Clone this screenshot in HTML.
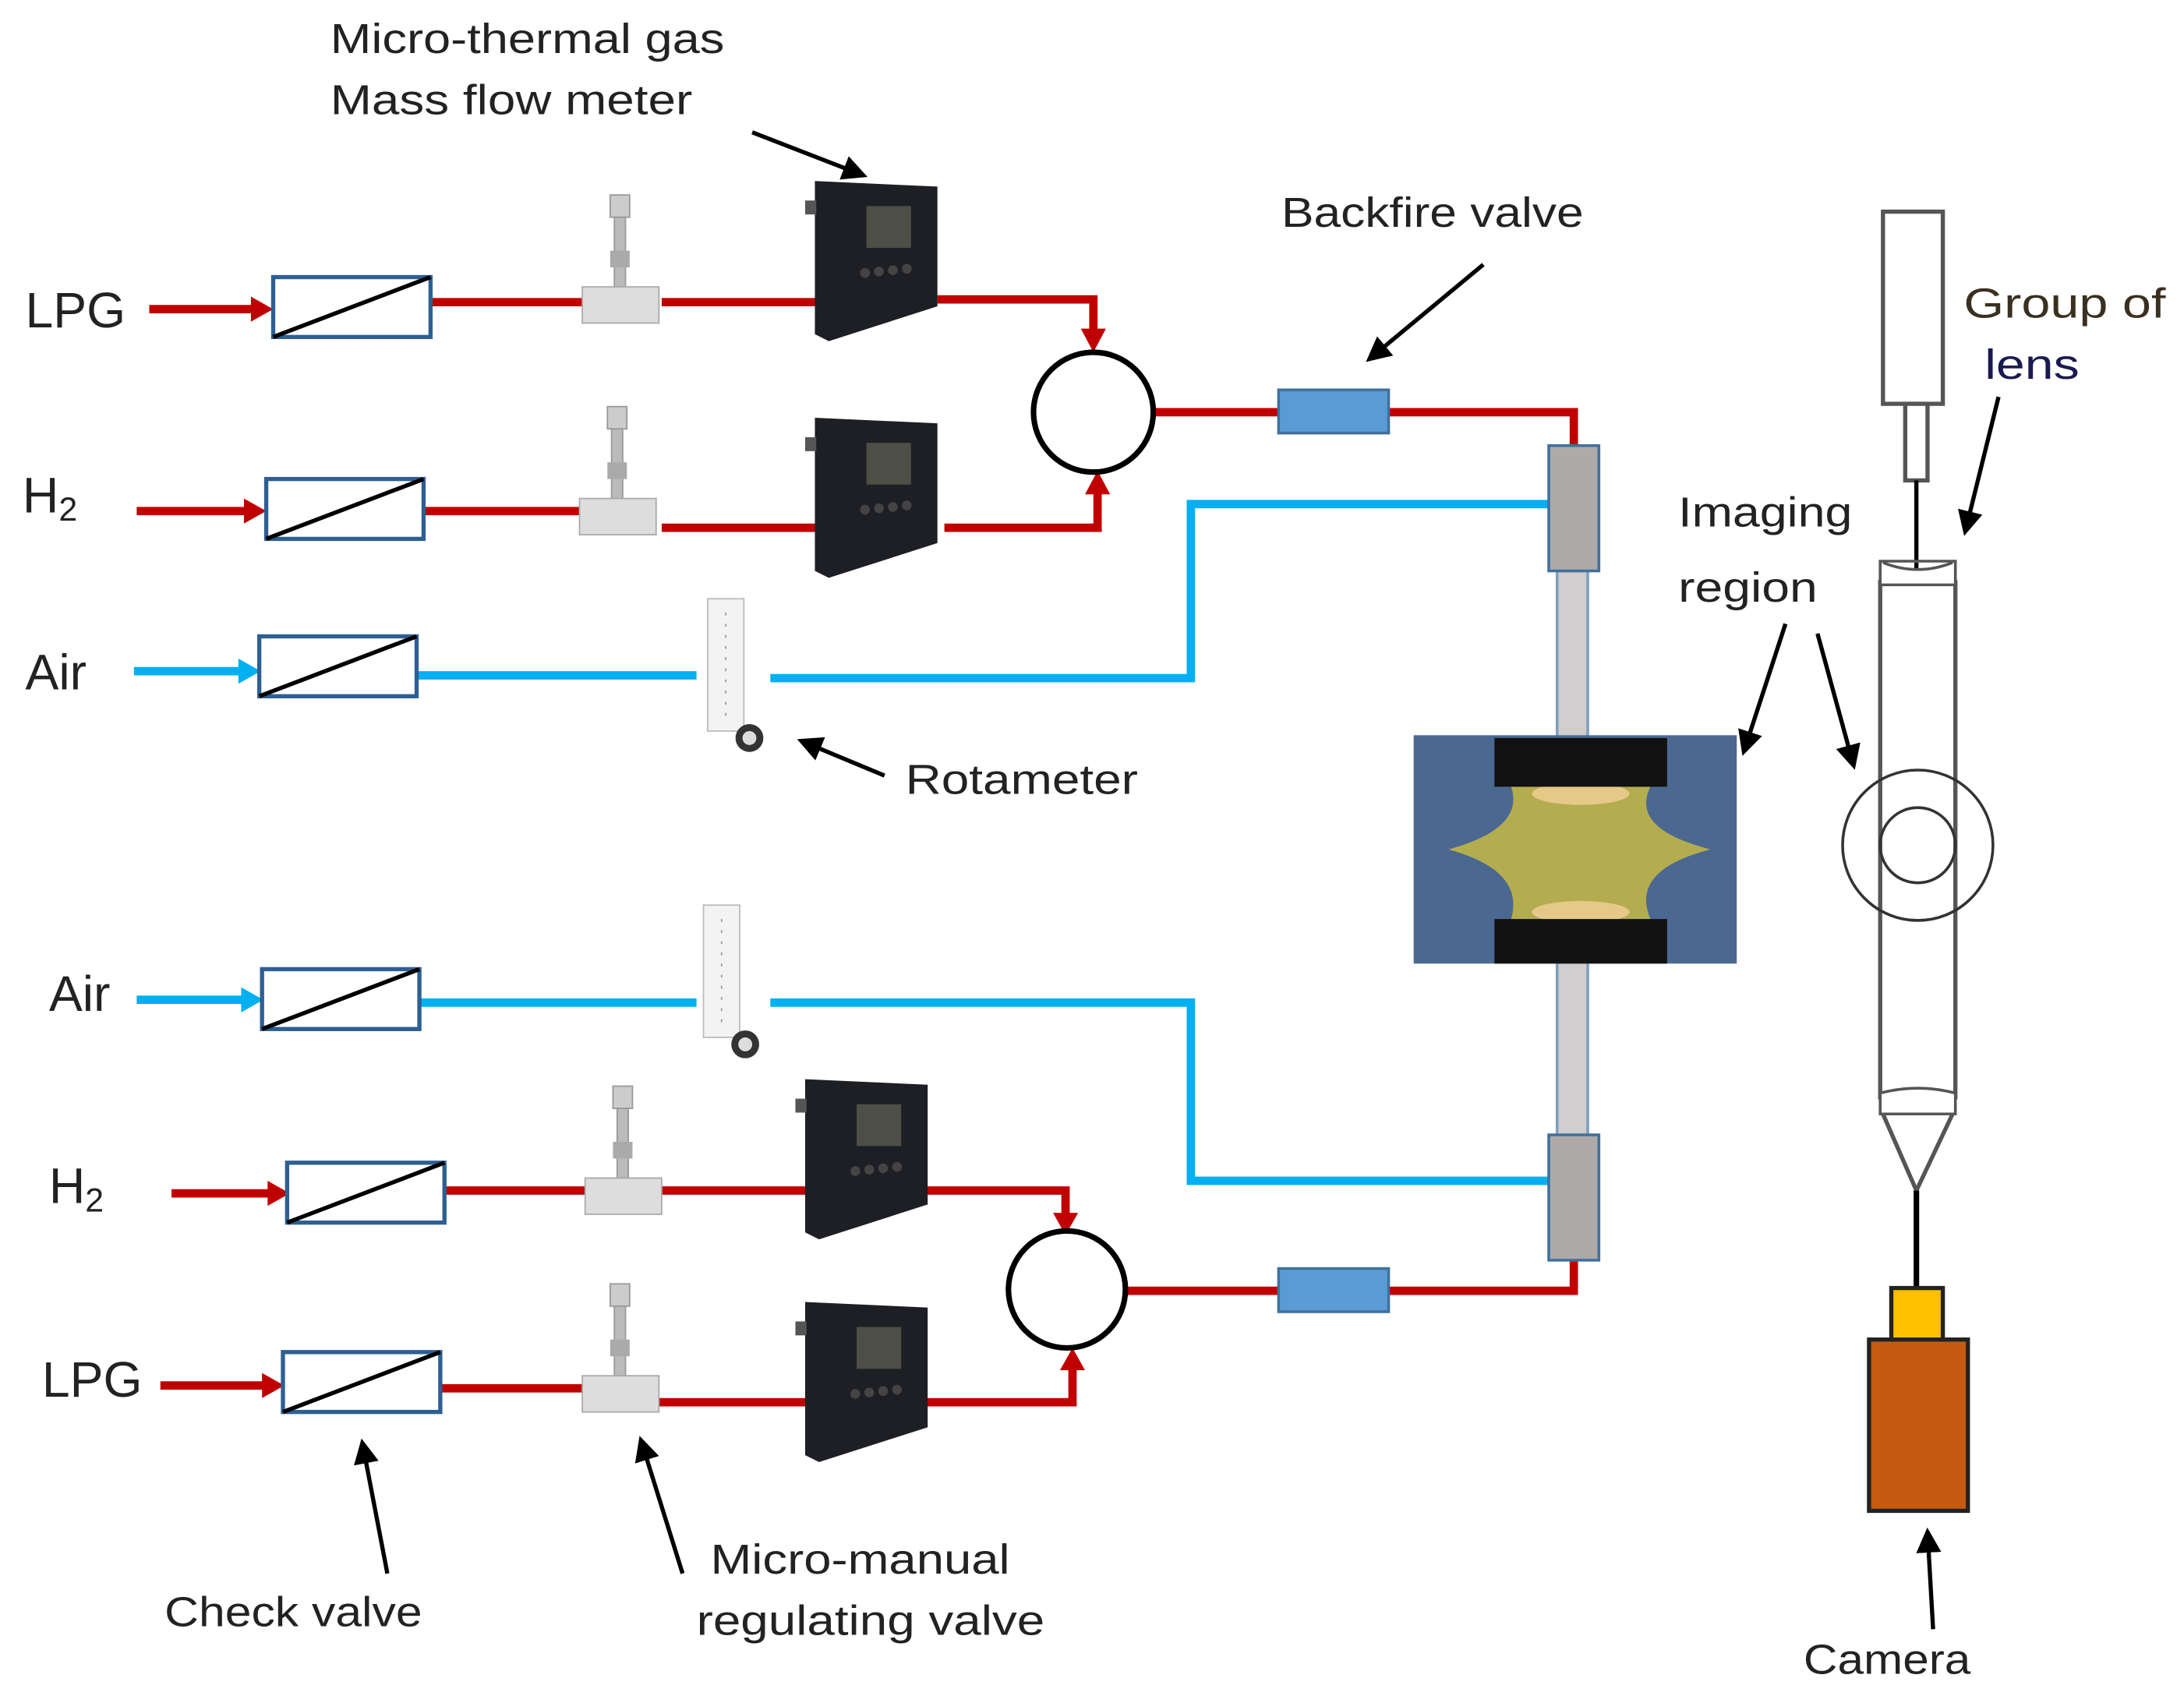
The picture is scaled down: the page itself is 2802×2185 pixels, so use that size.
<!DOCTYPE html>
<html><head><meta charset="utf-8"><style>html,body{margin:0;padding:0;background:#fff}svg{display:block}text{font-family:"Liberation Sans",sans-serif;fill:#222}</style></head>
<body>
<svg width="2802" height="2185" viewBox="0 0 1568 1223" xmlns="http://www.w3.org/2000/svg">
<defs>
<marker id="ah" markerWidth="6" markerHeight="6" refX="5" refY="3" orient="auto" markerUnits="strokeWidth"><path d="M0,0 L6,3 L0,6 Z" fill="#000"/></marker>
<g id="cv"><rect x="0" y="0" width="113" height="43" fill="#fff" stroke="#2e5f93" stroke-width="3"/><line x1="0" y1="43" x2="113" y2="0" stroke="#000" stroke-width="3"/></g>
<g id="nv"><rect x="20" y="0" width="14" height="16" fill="#ccc" stroke="#999"/><rect x="23" y="16" width="8" height="50" fill="#bbb" stroke="#999"/><rect x="20" y="40" width="14" height="12" fill="#aaa"/><rect x="0" y="66" width="55" height="26" fill="#ddd" stroke="#aaa"/></g>
<g id="mf"><path d="M0,0 L88,4 L88,90 L10,115 L0,110 Z" fill="#1e1f24"/><rect x="-7" y="14" width="8" height="10" fill="#555"/><rect x="37" y="18" width="32" height="30" fill="#4d4f47"/><circle cx="36" cy="66" r="3.5" fill="#444"/><circle cx="46" cy="65" r="3.5" fill="#444"/><circle cx="56" cy="64" r="3.5" fill="#444"/><circle cx="66" cy="63" r="3.5" fill="#444"/></g>
<g id="rm"><rect x="8" y="0" width="26" height="95" fill="#f3f3f3" stroke="#bbb"/><line x1="21" y1="10" x2="21" y2="85" stroke="#999" stroke-dasharray="2 6"/><circle cx="38" cy="100" r="10" fill="#333"/><circle cx="38" cy="100" r="5" fill="#ddd"/></g>
</defs>

<g stroke-width="6" fill="none">
<line x1="107" y1="222" x2="188" y2="222" stroke="#c00000"/>
<polygon points="180,213 196,222 180,231" fill="#c00000" stroke="none"/>
<line x1="309" y1="217" x2="420" y2="217" stroke="#c00000"/>
<line x1="475" y1="217" x2="590" y2="217" stroke="#c00000"/>
<polyline points="673,215 785,215 785,240" stroke="#c00000"/>
<polygon points="776,236 785,253 794,236" fill="#c00000" stroke="none"/>
<line x1="98" y1="367" x2="183" y2="367" stroke="#c00000"/>
<polygon points="175,358 191,367 175,376" fill="#c00000" stroke="none"/>
<line x1="304" y1="367" x2="418" y2="367" stroke="#c00000"/>
<line x1="475" y1="379" x2="585" y2="379" stroke="#c00000"/>
<polyline points="678,379 788,379 788,350" stroke="#c00000"/>
<polygon points="779,355 788,338 797,355" fill="#c00000" stroke="none"/>
<line x1="828" y1="296" x2="918" y2="296" stroke="#c00000"/>
<polyline points="997,296 1130,296 1130,320" stroke="#c00000"/>
<line x1="96" y1="482" x2="178" y2="482" stroke="#00b0f0"/>
<polygon points="171,473 187,482 171,491" fill="#00b0f0" stroke="none"/>
<line x1="298" y1="485" x2="500" y2="485" stroke="#00b0f0"/>
<polyline points="553,487 855,487 855,362 1112,362" stroke="#00b0f0"/>
<line x1="98" y1="718" x2="180" y2="718" stroke="#00b0f0"/>
<polygon points="173,709 189,718 173,727" fill="#00b0f0" stroke="none"/>
<line x1="300" y1="720" x2="500" y2="720" stroke="#00b0f0"/>
<polyline points="553,720 855,720 855,848 1112,848" stroke="#00b0f0"/>
<line x1="123" y1="857" x2="200" y2="857" stroke="#c00000"/>
<polygon points="192,848 208,857 192,866" fill="#c00000" stroke="none"/>
<line x1="316" y1="855" x2="420" y2="855" stroke="#c00000"/>
<line x1="475" y1="855" x2="580" y2="855" stroke="#c00000"/>
<polyline points="662,855 765,855 765,875" stroke="#c00000"/>
<polygon points="756,871 765,887 774,871" fill="#c00000" stroke="none"/>
<line x1="115" y1="995" x2="196" y2="995" stroke="#c00000"/>
<polygon points="188,986 204,995 188,1004" fill="#c00000" stroke="none"/>
<line x1="310" y1="997" x2="420" y2="997" stroke="#c00000"/>
<line x1="472" y1="1007" x2="580" y2="1007" stroke="#c00000"/>
<polyline points="665,1007 770,1007 770,980" stroke="#c00000"/>
<polygon points="761,984 770,968 779,984" fill="#c00000" stroke="none"/>
<line x1="808" y1="927" x2="918" y2="927" stroke="#c00000"/>
<polyline points="997,927 1130,927 1130,905" stroke="#c00000"/>
</g>

<circle cx="785" cy="296" r="43" fill="#fff" stroke="#000" stroke-width="4"/>
<circle cx="766" cy="926" r="42" fill="#fff" stroke="#000" stroke-width="4"/>
<rect x="918" y="280" width="79" height="31" fill="#5b9bd5" stroke="#41719c" stroke-width="2"/>
<rect x="918" y="911" width="79" height="31" fill="#5b9bd5" stroke="#41719c" stroke-width="2"/>

<use href="#cv" x="196" y="199"/>
<use href="#cv" x="191" y="344"/>
<use href="#cv" x="186" y="457"/>
<use href="#cv" x="188" y="696"/>
<use href="#cv" x="206" y="835"/>
<use href="#cv" x="203" y="971"/>

<use href="#nv" x="418" y="140"/>
<use href="#nv" x="416" y="292"/>
<use href="#nv" x="420" y="780"/>
<use href="#nv" x="418" y="922"/>

<use href="#mf" x="585" y="130"/>
<use href="#mf" x="585" y="300"/>
<use href="#mf" x="578" y="775"/>
<use href="#mf" x="578" y="935"/>

<use href="#rm" x="500" y="430"/>
<use href="#rm" x="497" y="650"/>

<rect x="1118" y="410" width="22" height="410" fill="#d0cece" stroke="#7f9fc0" stroke-width="2"/>
<rect x="1112" y="320" width="36" height="90" fill="#aeaaaa" stroke="#41719c" stroke-width="2"/>
<rect x="1112" y="815" width="36" height="90" fill="#aeaaaa" stroke="#41719c" stroke-width="2"/>
<rect x="1015" y="528" width="232" height="164" fill="#4b6890"/>
<path d="M1085,565 L1185,565 Q1170,595 1228,610 Q1170,625 1185,660 L1085,660 Q1095,625 1040,610 Q1095,595 1085,565 Z" fill="#b4ad50"/>
<ellipse cx="1135" cy="570" rx="35" ry="8" fill="#e6c888"/>
<ellipse cx="1135" cy="655" rx="35" ry="8" fill="#e6c888"/>
<rect x="1073" y="530" width="124" height="35" fill="#111"/>
<rect x="1073" y="660" width="124" height="32" fill="#111"/>

<g fill="#fff" stroke="#555" stroke-width="3">
<rect x="1352" y="152" width="43" height="138"/>
<rect x="1368" y="290" width="16" height="55"/>
<rect x="1350" y="418" width="54" height="370"/>
</g>
<line x1="1376" y1="345" x2="1376" y2="410" stroke="#000" stroke-width="3"/>
<path d="M1350,403 L1404,403 L1404,420 L1350,420 Z M1352,404 Q1377,414 1402,404" fill="#fff" stroke="#555" stroke-width="2"/>
<path d="M1350,785 Q1377,778 1404,785 L1404,800 L1350,800 Z" fill="#fff" stroke="#555" stroke-width="2"/>
<path d="M1352,800 L1376,855 L1402,800" fill="none" stroke="#555" stroke-width="3"/>
<line x1="1376" y1="855" x2="1376" y2="925" stroke="#000" stroke-width="4"/>
<circle cx="1377" cy="607" r="54" fill="none" stroke="#333" stroke-width="2"/>
<circle cx="1377" cy="607" r="27" fill="none" stroke="#333" stroke-width="2"/>
<rect x="1358" y="925" width="37" height="37" fill="#ffc000" stroke="#222" stroke-width="3"/>
<rect x="1342" y="962" width="71" height="123" fill="#c55a11" stroke="#222" stroke-width="3"/>

<g stroke="#000" stroke-width="3" marker-end="url(#ah)">
<line x1="540" y1="95" x2="620" y2="126"/>
<line x1="1065" y1="190" x2="983" y2="258"/>
<line x1="635" y1="557" x2="575" y2="532"/>
<line x1="1435" y1="285" x2="1411" y2="382"/>
<line x1="1282" y1="448" x2="1252" y2="540"/>
<line x1="1305" y1="455" x2="1331" y2="550"/>
<line x1="278" y1="1130" x2="260" y2="1036"/>
<line x1="490" y1="1130" x2="460" y2="1034"/>
<line x1="1388" y1="1170" x2="1384" y2="1100"/>
</g>

<g font-size="30" lengthAdjust="spacingAndGlyphs">
<text x="237" y="38" textLength="283" lengthAdjust="spacingAndGlyphs">Micro-thermal gas</text>
<text x="237" y="82" textLength="260" lengthAdjust="spacingAndGlyphs">Mass flow meter</text>
<text x="920" y="163" textLength="217" lengthAdjust="spacingAndGlyphs">Backfire valve</text>
<text x="650" y="570" textLength="167" lengthAdjust="spacingAndGlyphs">Rotameter</text>
<text x="1205" y="378" textLength="125" lengthAdjust="spacingAndGlyphs">Imaging</text>
<text x="1205" y="432" textLength="100" lengthAdjust="spacingAndGlyphs">region</text>
<text x="1410" y="228" style="fill:#3a3020" textLength="145" lengthAdjust="spacingAndGlyphs">Group of</text>
<text x="1425" y="272" style="fill:#1a1a50" textLength="68" lengthAdjust="spacingAndGlyphs">lens</text>
<text x="118" y="1168" textLength="185" lengthAdjust="spacingAndGlyphs">Check valve</text>
<text x="510" y="1130" textLength="215" lengthAdjust="spacingAndGlyphs">Micro-manual</text>
<text x="500" y="1174" textLength="250" lengthAdjust="spacingAndGlyphs">regulating valve</text>
<text x="1295" y="1202" textLength="120" lengthAdjust="spacingAndGlyphs">Camera</text>
</g>
<g font-size="36">
<text x="18" y="235">LPG</text>
<text x="16" y="368">H<tspan font-size="24" dy="6">2</tspan></text>
<text x="18" y="495">Air</text>
<text x="35" y="726">Air</text>
<text x="35" y="864">H<tspan font-size="24" dy="6">2</tspan></text>
<text x="30" y="1003">LPG</text>
</g>
</svg>
</body></html>
